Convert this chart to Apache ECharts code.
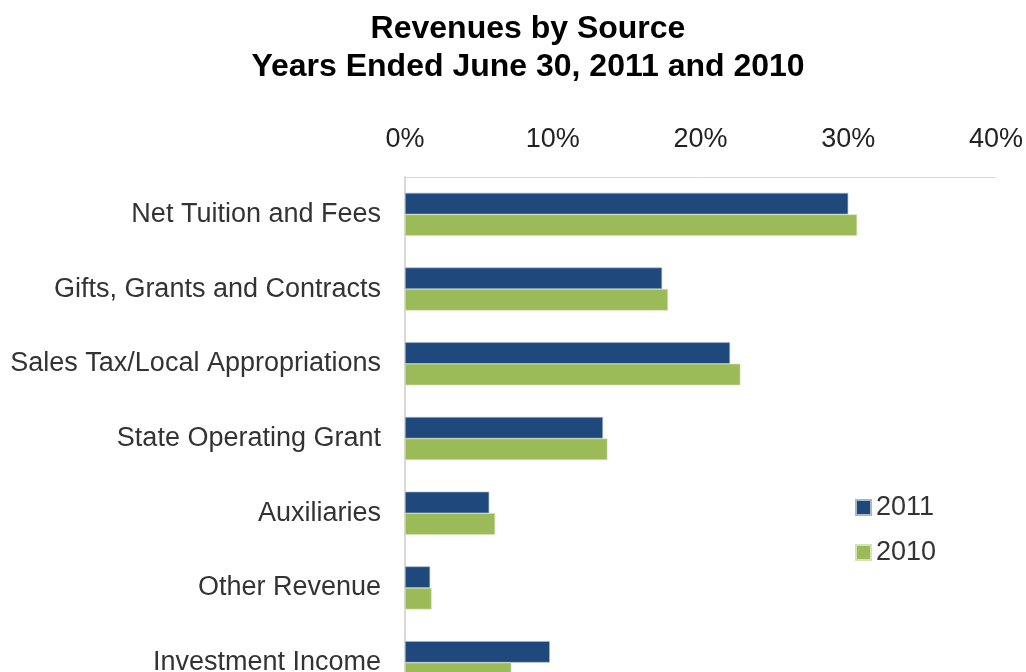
<!DOCTYPE html>
<html><head><meta charset="utf-8">
<script src="https://cdn.jsdelivr.net/npm/echarts@6/dist/echarts.min.js"></script>
<style>html,body{margin:0;padding:0;background:#fff;overflow:hidden}#c{width:1026px;height:700px}</style>
</head><body><div id="c"></div>
<script>
const categories = ["Net Tuition and Fees","Gifts, Grants and Contracts","Sales Tax/Local Appropriations","State Operating Grant","Auxiliaries","Other Revenue","Investment Income"];
const values2011 = [30.0, 17.4, 22.0, 13.4, 5.7, 1.7, 9.8];
const values2010 = [30.6, 17.8, 22.7, 13.7, 6.1, 1.8, 7.2];
const xTicks = [0, 10, 20, 30, 40];

const chart = echarts.init(document.getElementById('c'));
const font = 'Liberation Sans, Arial, sans-serif';
chart.setOption({
  animation: false,
  textStyle: {fontFamily: font},
  title: {
    text: 'Revenues by Source\nYears Ended June 30, 2011 and 2010',
    left: 523, top: 5, textAlign: 'center',
    textStyle: {fontFamily: font, fontSize: 32, fontWeight: 'bold', color: '#000', lineHeight: 38}
  },
  legend: {
    orient: 'vertical', left: 850, top: 489, itemGap: 18,
    itemWidth: 15, itemHeight: 15, icon: 'rect',
    textStyle: {fontFamily: font, fontSize: 27, color: '#333'},
    data: ['2011', '2010']
  },
  grid: {left: 405, top: 177, width: 592, bottom: 0, containLabel: false},
  xAxis: {
    type: 'value', position: 'top', min: 0, max: 40, interval: 10,
    axisLine: {show: true, lineStyle: {color: '#d9d9d9', width: 1}},
    axisTick: {show: false},
    splitLine: {show: false},
    axisLabel: {margin: 24, fontSize: 27, color: '#222', fontFamily: font,
      formatter: v => xTicks.includes(v) ? v + '%' : ''}
  },
  yAxis: {
    type: 'category', inverse: true, data: categories,
    axisLine: {show: true, lineStyle: {color: '#d9d9d9', width: 2}},
    axisTick: {show: false},
    axisLabel: {margin: 24, fontSize: 27, color: '#333', fontFamily: font, padding: [4, 0, 0, 0]}
  },
  series: [
    {name: '2011', type: 'bar', data: values2011, barWidth: 21.5, barGap: '0%',
      itemStyle: {color: '#1F497D', borderColor: '#a8b8cc', borderWidth: 0.6}},
    {name: '2010', type: 'bar', data: values2010, barWidth: 21.5, barGap: '0%',
      itemStyle: {color: '#9BBB59', borderColor: '#d4e3b5', borderWidth: 0.6}}
  ]
});
</script></body></html>
